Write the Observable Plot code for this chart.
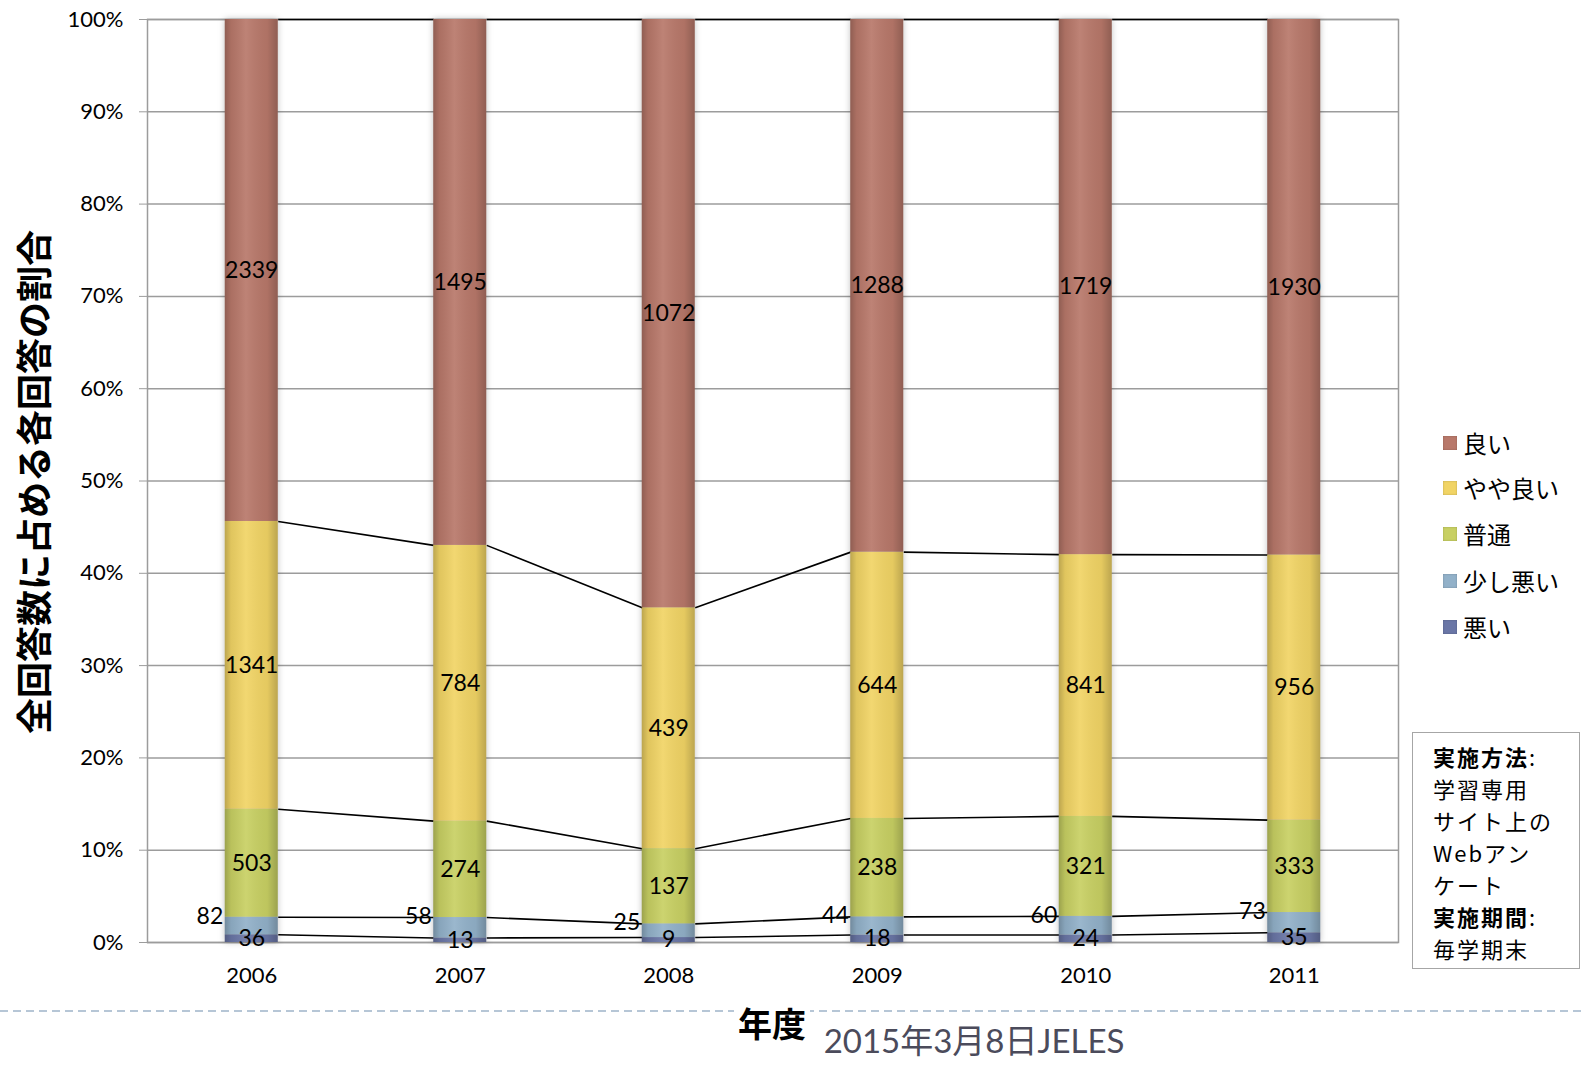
<!DOCTYPE html>
<html><head><meta charset="utf-8">
<script src="https://cdn.jsdelivr.net/npm/d3@7"></script>
<script src="https://cdn.jsdelivr.net/npm/@observablehq/plot@0.6"></script>
<style>
body{margin:0;background:#fff;}
#wrap{position:relative;width:1581px;height:1066px;overflow:hidden;font-family:Lato,"Noto Sans CJK JP",sans-serif;}
#wrap svg.plot{position:absolute;left:0;top:0;}
.abs{position:absolute;white-space:nowrap;}
#ylab{left:32px;top:482px;transform:translate(-50%,-50%) rotate(-90deg);font:bold 36px "Noto Sans CJK JP";color:#000;}
#xlab{left:772px;top:1023px;transform:translate(-50%,-50%);font:bold 34px "Noto Sans CJK JP";background:#fff;padding:0 4px;line-height:1;}
#foot{left:974px;top:1040px;transform:translate(-50%,-50%);font:33px Lato,"Noto Sans CJK JP";color:#4b4b5b;line-height:1;}
.leg{display:flex;align-items:center;font:24px "Noto Sans CJK JP";color:#000;line-height:1;}
.leg span.sw{display:inline-block;width:14px;height:14px;margin-right:6px;box-shadow:inset 0 0 2px rgba(0,0,0,0.25);}
#box{left:1412px;top:732px;border:1.5px solid #a6a6a6;padding:7px 0 0 20px;box-sizing:border-box;width:168px;height:237px;font:22px "Noto Sans CJK JP";letter-spacing:2px;color:#000;}
#box div{height:32px;line-height:32px;}
#box b{font-weight:bold;}
</style></head><body><div id="wrap"></div>
<script>
const years=[2006,2007,2008,2009,2010,2011];
const seriesNames=["悪い","少し悪い","普通","やや良い","良い"];
const warui=[36,13,9,18,24,35];
const sukoshiWarui=[82,58,25,44,60,73];
const futsu=[503,274,137,238,321,333];
const yayaYoi=[1341,784,439,644,841,956];
const yoi=[2339,1495,1072,1288,1719,1930];
const seriesColors=["#6a76a6","#92b1c9","#c8d063","#f1d465","#b8786a"];
const legendOrder=["良い","やや良い","普通","少し悪い","悪い"];
const yTicks=[0,0.1,0.2,0.3,0.4,0.5,0.6,0.7,0.8,0.9,1];
const noteLines=["<b>実施方法</b>:","学習専用","サイト上の","Webアン","ケート","<b>実施期間</b>:","毎学期末"];

const valuesBySeries=[warui,sukoshiWarui,futsu,yayaYoi,yoi];
const hw=0.127;
const rows=[];
years.forEach((yr,j)=>{
  const total=d3.sum(valuesBySeries,v=>v[j]);
  let cum=0;
  seriesNames.forEach((s,i)=>{
    const v=valuesBySeries[i][j];
    rows.push({year:yr,series:s,idx:i,value:v,y1:cum/total,y2:(cum+v)/total});
    cum+=v;
  });
});
const links=[];
seriesNames.forEach((s,i)=>{
  for(let j=0;j<years.length-1;j++){
    const a=rows.find(r=>r.year===years[j]&&r.idx===i);
    const b=rows.find(r=>r.year===years[j+1]&&r.idx===i);
    links.push({x1:years[j]+hw,x2:years[j+1]-hw,y1:a.y2,y2:b.y2});
  }
});
const centerRows=rows.filter(r=>r.idx!==1);
const smallRows=rows.filter(r=>r.idx===1);

const chart=Plot.plot({
  width:1581,height:1066,
  marginLeft:147,marginRight:183,marginTop:19,marginBottom:124,
  style:{fontFamily:'Lato,"Noto Sans CJK JP",sans-serif',fontSize:"22px",color:"#000",background:"transparent"},
  x:{domain:[2005.5,2011.5]},
  y:{domain:[0,1]},
  color:{domain:seriesNames,range:seriesColors},
  marks:[
    Plot.gridY(yTicks,{stroke:"#9c9c9c",strokeOpacity:1,strokeWidth:1.5}),
    Plot.frame({stroke:"#9c9c9c",strokeWidth:1.5}),
    Plot.link(links,{x1:"x1",x2:"x2",y1:"y1",y2:"y2",stroke:"#000",strokeWidth:1.6}),
    Plot.rect(rows,{x1:d=>d.year-hw,x2:d=>d.year+hw,y1:"y1",y2:"y2",fill:"series"}),
    Plot.rect(years,{x1:d=>d-hw,x2:d=>d+hw,y1:d=>0,y2:d=>1,fill:"url(#barShade)"}),
    Plot.axisY(yTicks,{tickFormat:d3.format(".0%"),tickSize:8,tickPadding:16,stroke:"#9c9c9c",label:null,fontSize:22}),
    Plot.axisX(years,{tickFormat:d=>String(d),tickSize:0,tickPadding:25,label:null,fontSize:22}),
    Plot.text(centerRows,{x:"year",y:d=>(d.y1+d.y2)/2,text:d=>String(d.value),fill:"#000",fontSize:23}),
    Plot.text(smallRows,{x:d=>d.year-hw,y:"y2",text:d=>String(d.value),textAnchor:"end",dx:-2,dy:-1,fill:"#000",fontSize:23})
  ]
});
chart.classList.add("plot");
const defs=d3.select(chart).insert("defs",":first-child");
defs.html(`<linearGradient id="barShade" x1="0" x2="1" y1="0" y2="0">
<stop offset="0" stop-color="#000" stop-opacity="0.22"/>
<stop offset="0.12" stop-color="#000" stop-opacity="0.07"/>
<stop offset="0.4" stop-color="#fff" stop-opacity="0.08"/>
<stop offset="0.8" stop-color="#000" stop-opacity="0.05"/>
<stop offset="1" stop-color="#000" stop-opacity="0.22"/>
</linearGradient>`);
const rectGroups=chart.querySelectorAll('g[aria-label="rect"]');
if(rectGroups[0]) rectGroups[0].style.filter="drop-shadow(0 0 3px rgba(0,0,0,0.25))";

const wrap=document.getElementById("wrap");
wrap.appendChild(chart);

// dashed separator
const ns="http://www.w3.org/2000/svg";
const dsvg=document.createElementNS(ns,"svg");
dsvg.setAttribute("width","1581");dsvg.setAttribute("height","6");
dsvg.style.position="absolute";dsvg.style.left="0";dsvg.style.top="1008px";
const ln=document.createElementNS(ns,"line");
ln.setAttribute("x1","0");ln.setAttribute("x2","1581");ln.setAttribute("y1","3");ln.setAttribute("y2","3");
ln.setAttribute("stroke","#9fb4c9");ln.setAttribute("stroke-width","1.6");ln.setAttribute("stroke-dasharray","8 5");
dsvg.appendChild(ln);wrap.appendChild(dsvg);

function addDiv(id,html){const d=document.createElement("div");d.className="abs";d.id=id;d.innerHTML=html;wrap.appendChild(d);return d;}
addDiv("ylab","全回答数に占める各回答の割合");
addDiv("xlab","年度");
addDiv("foot","2015年3月8日JELES");
const legY=[443,488,534,581,627];
legendOrder.forEach((name,k)=>{
  const d=document.createElement("div");d.className="abs leg";
  d.style.left="1443px";d.style.top=(legY[k]-13)+"px";d.style.height="26px";
  const c=seriesColors[seriesNames.indexOf(name)];
  d.innerHTML=`<span class="sw" style="background:${c}"></span><span>${name}</span>`;
  wrap.appendChild(d);
});
addDiv("box",noteLines.map(t=>`<div>${t}</div>`).join(""));
</script></body></html>
